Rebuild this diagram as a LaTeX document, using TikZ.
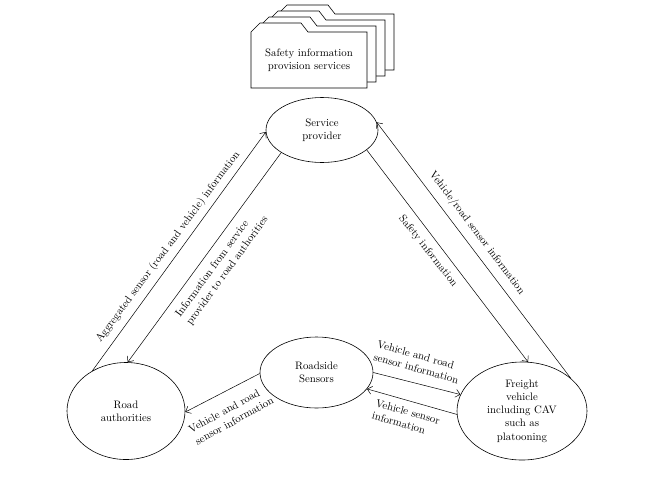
\documentclass[tikz,border=0pt]{standalone}
\usetikzlibrary{shapes.geometric,arrows.meta}
\begin{document}
\begin{tikzpicture}[x=1pt,y=-1pt,
  every node/.style={font=\fontsize{10.8}{13.3}\selectfont},
  ell/.style={draw,ellipse,inner sep=0pt,line width=0.6pt,align=center},
  conn/.style={line width=0.5pt,-{Straight Barb[length=4.5pt,width=8pt]}},
  lbl/.style={inner sep=1pt,align=left},
  page/.style={draw,fill=white,line width=0.6pt}]
\useasboundingbox (0,0) rectangle (647,480);
% stacked pages
\foreach \k in {3,2,1,0}{
  \draw[page,shift={(9*\k,-6*\k)}] (251,88)--(251,32)--(260,23)--(301,23)--(308,32)--(367,32)--(367,88)--cycle;
}
\node[align=center] (sis) at (309,60) {Safety information\\provision services};
% ellipses
\node[ell,minimum width=112pt,minimum height=65pt] (sp) at (322,130) {Service\\provider};
\node[ell,minimum width=118pt,minimum height=97pt] (ra) at (126,411) {Road\\authorities};
\node[ell,minimum width=113pt,minimum height=71pt] (rs) at (316.5,372.5) {Roadside\\Sensors};
\node[ell,minimum width=130pt,minimum height=98pt] (fv) at (522,411) {Freight\\vehicle\\including CAV\\such as\\platooning};
% connectors
\draw[conn] (ra.130) -- (sp.182);
\draw[conn] (sp.209) -- (ra.88);
\draw[conn] (sp.336) -- (fv.83);
\draw[conn] (fv.34) -- (sp.8);
\draw[conn] (rs.0) -- (fv.165);
\draw[conn] (fv.183.5) -- (rs.342.6);
\draw[conn] (rs.181) -- (ra.359);
% labels
\node[lbl,rotate=53.5] (l1) at (168,247) {Aggregated sensor (road and vehicle) information};
\node[lbl,rotate=54] (l2) at (222,267) {Information from service\\provider to road authorities};
\node[lbl,rotate=-51.6] (l3) at (428,251) {Safety information};
\node[lbl,rotate=-53] (l4) at (477,233) {Vehicle/road sensor information};
\node[lbl,rotate=-15.8] (l5) at (418,362) {Vehicle and road\\sensor information};
\node[lbl,rotate=-16] (l6) at (406,418) {Vehicle sensor\\information};
\node[lbl,rotate=28.7] (l7) at (231,415) {Vehicle and road\\sensor information};
\end{tikzpicture}
\end{document}
